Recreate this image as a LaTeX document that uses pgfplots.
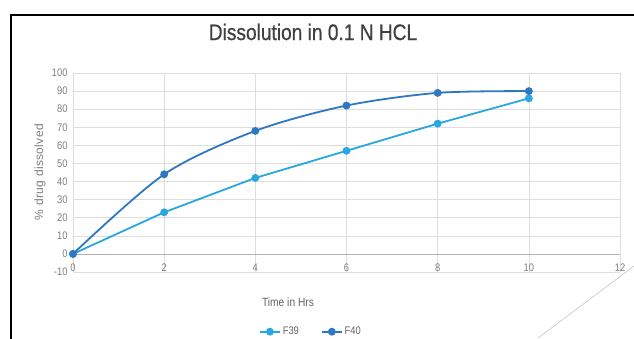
\documentclass[border=0pt]{standalone}
\usepackage{pgfplots}
\pgfplotsset{compat=1.18}
\usepackage{fontspec}
\setmainfont{Liberation Sans}
\newfontfamily\narrowfont{Liberation Sans}[FakeStretch=0.85]
\newfontfamily\ylabfont{Liberation Sans}[LetterSpace=3]
\newfontfamily\titlefont{Liberation Sans}[FakeStretch=0.85, FakeBold=0.6]
\definecolor{cFA}{HTML}{29A8E0}
\definecolor{cFB}{HTML}{2E78C2}
\definecolor{gridc}{HTML}{DDDDDD}
\definecolor{tickc}{HTML}{7F7F7F}
\definecolor{titlec}{HTML}{404040}
\begin{document}
\begin{tikzpicture}[x=1pt,y=1pt]
\useasboundingbox (0,0) rectangle (634,338);
\fill[white] (0,0) rectangle (634,338);
\draw[black, line width=2pt] (11,-2) -- (11,323) -- (640,323);
\draw[gray!45, line width=0.6pt] (538,0) -- (634,72);
\node[font=\titlefont\fontsize{22.5}{26}\selectfont, text=titlec] at (313,306) {Dissolution in 0.1 N HCL};
\node[font=\ylabfont\fontsize{12}{14}\selectfont, text=tickc, rotate=90] at (40,166) {\% drug dissolved};
\node[font=\narrowfont\fontsize{12}{14}\selectfont, text=tickc!80!black] at (288,36) {Time in Hrs};
\begin{axis}[
  at={(73pt,66pt)}, anchor=south west,
  scale only axis, width=547pt, height=199pt,
  xmin=0, xmax=12, ymin=-10, ymax=100,
  xtick={0,2,...,12}, ytick={-10,0,...,100},
  grid=major, grid style={gridc, line width=0.6pt},
  axis x line=middle, axis y line=left,
  hide obscured x ticks=false, hide obscured y ticks=false,
  x axis line style={-, draw=gridc!80!black, line width=0.7pt},
  y axis line style={draw=none},
  major tick length=0pt,
  /pgf/number format/assume math mode=true,
  tick label style={text=tickc, font=\narrowfont\fontsize{11}{13}\selectfont},
  xticklabel style={yshift=-6pt},
  yticklabel style={xshift=-2pt},
  legend columns=2,
  legend style={draw=none, fill=none, at={(axis description cs:0.435,-0.30)}, anchor=center,
    font=\narrowfont\fontsize{11}{13}\selectfont, text=tickc!80!black,
    /tikz/every even column/.append style={column sep=20pt}},
  legend image code/.code={\draw[#1, mark=none] (0pt,0pt) -- (20pt,0pt); \fill[#1] (10pt,0pt) circle (3pt);},
]
\addplot[cFA, line width=1.8pt, mark=*, mark size=3pt] coordinates {
  (0,0) (2,23) (4,42) (6,57) (8,72) (10,86)};
\addlegendentry{F39}
\addplot[cFB, line width=1.8pt, mark=*, mark size=3pt, smooth, tension=0.5] coordinates {
  (0,0) (2,44) (4,68) (6,82) (8,89) (10,90)};
\addlegendentry{F40}
\end{axis}
\end{tikzpicture}
\end{document}
